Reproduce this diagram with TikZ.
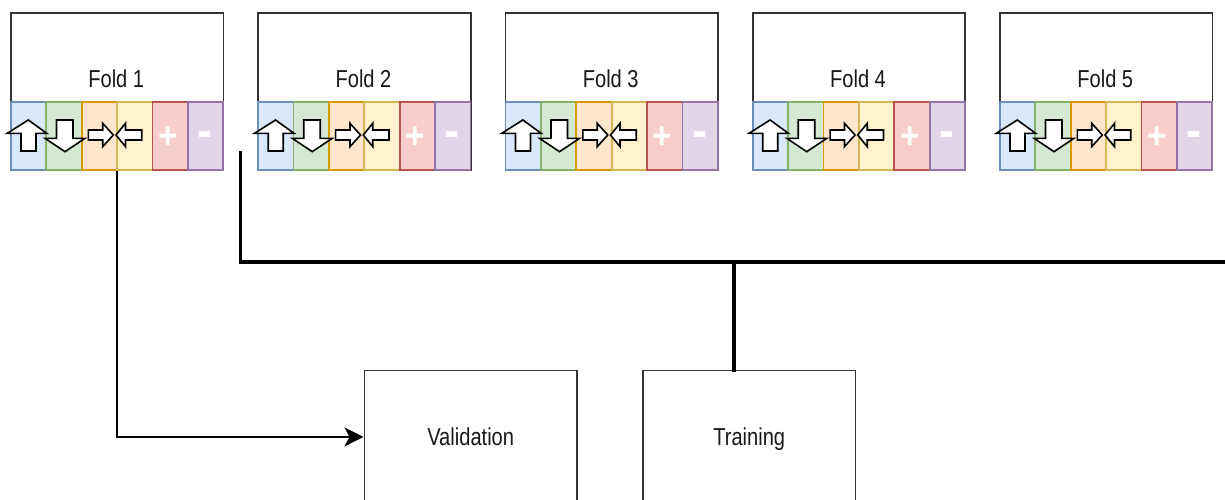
\documentclass[tikz,border=0pt]{standalone}
\usepackage{fontspec}
\setmainfont{Liberation Sans}
\newfontfamily\lblfont[FakeStretch=0.82]{Liberation Sans}
\newfontfamily\signfont[FakeStretch=0.9]{Liberation Sans}

\definecolor{blueF}{HTML}{DAE8FC}\definecolor{blueS}{HTML}{6C8EBF}
\definecolor{greenF}{HTML}{D5E8D4}\definecolor{greenS}{HTML}{82B366}
\definecolor{orangeF}{HTML}{FFE6CC}\definecolor{orangeS}{HTML}{D79B00}
\definecolor{yellowF}{HTML}{FFF2CC}\definecolor{yellowS}{HTML}{D6B656}
\definecolor{redF}{HTML}{F8CECC}\definecolor{redS}{HTML}{B85450}
\definecolor{purpleF}{HTML}{E1D5E7}\definecolor{purpleS}{HTML}{9673A6}
\definecolor{edge}{HTML}{333333}

\usetikzlibrary{arrows.meta}

\tikzset{
  x=1pt, y=-1pt,
  box/.style={rectangle, draw=edge, line width=1.9pt, fill=white, inner sep=0pt},
  foldbox/.style={box, minimum width=212.5pt, minimum height=157pt, anchor=north west},
  bigbox/.style={box, minimum width=212.5pt, minimum height=133pt, anchor=north west,
    text height=17.5pt, text depth=0pt,
    font=\lblfont\fontsize{24.5}{29}\selectfont, text=black!90},
  lbl/.style={inner sep=0pt, font=\lblfont\fontsize{24.5}{29}\selectfont, text=black!90},
  cell/.style={rectangle, line width=1.8pt, minimum width=35.4pt, minimum height=67.5pt,
    anchor=north west, inner sep=0pt},
  c0/.style={fill=blueF, draw=blueS},
  c1/.style={fill=greenF, draw=greenS},
  c2/.style={fill=orangeF, draw=orangeS},
  c3/.style={fill=yellowF, draw=yellowS},
  c4/.style={fill=redF, draw=redS},
  c5/.style={fill=purpleF, draw=purpleS},
  glyph/.style={draw=black, fill=white, line width=1.6pt, line join=miter},
  plussign/.style={inner sep=0pt, text=white, font=\signfont\bfseries\fontsize{37}{37}\selectfont},
  minussign/.style={inner sep=0pt, text=white, font=\signfont\bfseries\fontsize{50}{50}\selectfont},
  conn/.style={draw=black, line width=2pt, -{Stealth[length=19pt, width=19pt, inset=5pt]}},
  trunk/.style={draw=black, line width=3.6pt},
}

\begin{document}
\begin{tikzpicture}
\useasboundingbox (0,0) rectangle (1225,500);

% the five folds, each split into six coloured parts
\foreach \i in {1,...,5} {
  \pgfmathsetmacro\fx{10+247.25*(\i-1)}
  \pgfmathsetmacro\ox{\fx-10}
  \node[foldbox] (fold\i) at (\fx,12) {};
  \node[lbl] (fold\i-name) at (\fx+106.25,79) {Fold \i};
  \foreach \j in {0,...,5} {
    \node[cell, c\j] (fold\i-c\j) at (\fx+35.4*\j,101.5) {};
  }
  \begin{scope}[shift={(\ox,0)}]
    % up arrow
    \path[glyph] (21,151) -- (21,133.3) -- (7.3,133.3) -- (28.3,120) -- (46.7,133.3)
      -- (36,133.3) -- (36,151) -- cycle;
    % down arrow
    \path[glyph] (56.5,120) -- (56.5,138.3) -- (45,138.3) -- (65,151.7) -- (85,138.3)
      -- (73,138.3) -- (73,120) -- cycle;
    % right arrow
    \path[glyph] (88.3,130) -- (102.7,130) -- (102.7,123.3) -- (113.3,135) -- (102.7,146.7)
      -- (102.7,140) -- (88.3,140) -- cycle;
    % left arrow
    \path[glyph] (116,135) -- (125.5,123.3) -- (125.5,130) -- (141.7,130) -- (141.7,140)
      -- (125.5,140) -- (125.5,146.7) -- cycle;
  \end{scope}
  \node[plussign] (fold\i-plus) at (\ox+168,137.5) {+};
  \node[minussign] (fold\i-minus) at (\ox+205,140) {-};
}

% target boxes
\node[bigbox] (valid) at (363.5,369.5) {Validation};
\node[bigbox] (train) at (642,369.5) {Training};

% fold 1 goes to validation
\draw[conn] (fold1.south) |- (valid.west);

% remaining folds are gathered into training
\coordinate (tstart) at (240.5,151);
\coordinate (tend) at (1227,262);
\coordinate (tjoin) at (734,262);
\draw[trunk] (tstart) |- (tend);
\draw[trunk] (tjoin) -- ([yshift=-2.5pt]train.north -| tjoin);
\end{tikzpicture}
\end{document}
